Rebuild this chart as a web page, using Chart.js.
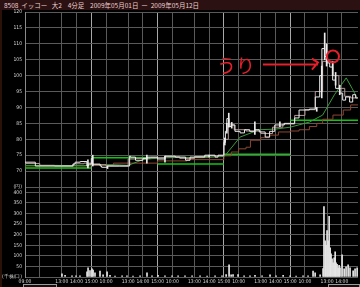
<!DOCTYPE html>
<html>
<head>
<meta charset="utf-8">
<script src="https://cdn.jsdelivr.net/npm/chart.js@4"></script>
<style>
  html, body { margin: 0; padding: 0; background: #000; }
  body { width: 360px; height: 287px; position: relative; overflow: hidden; }
  #title {
    position: absolute; left: 0; top: 0; width: 356px; height: 10px;
    padding-left: 4px; background: #2b1111; color: #ead0d0;
    font: 6.5px "Noto Sans CJK JP"; line-height: 10px; white-space: pre;
  }
  #edge { position: absolute; left: 0; top: 10px; width: 2px; height: 277px; background: #2a1208; }
  #price-chart { position: absolute; left: 0; top: 8px; }
  #vol-chart { position: absolute; left: 0; top: 187px; }
  .box { position: absolute; top: 284px; height: 6px; border: 1px solid #9a9a9a; background: #111; }
</style>
</head>
<body>
<div id="title">8508  イッコー   大2    4分足    2009年05月01日  ー  2009年05月12日</div>
<div id="edge"></div>
<canvas id="vol-chart" width="360" height="100"></canvas>
<canvas id="price-chart" width="360" height="184"></canvas>
<div class="box" style="left:23px;width:32px"></div>
<div class="box" style="left:328px;width:30px"></div>

<script>
// x values are trading hours from 05/01 09:00 (4.5 trading hours per day)
const tickHours = [0, 1, 2.5, 3.5, 4.5, 5.5, 7, 8, 9, 10, 11.5, 12.5, 13.5, 14.5, 16, 17, 18, 19, 20.5, 21.5];
const tickLabels = ["09:00", "", "13:00", "14:00", "15:00", "10:00", "13:00", "14:00", "15:00",
  "10:00", "13:00", "14:00", "15:00", "10:00", "13:00", "14:00", "15:00", "10:00", "13:00", "14:00"];
const dayBreaks = [4.5, 9, 13.5, 18];
const priceTicks = [65, 70, 75, 80, 85, 90, 95, 100, 105, 110, 115, 120];
const volTicks = [0, 50, 100, 150, 200, 250, 300, 350, 400];

// price (close) line
const priceHours = [0, 0.7, 0.75, 1.7, 2.5, 3.25, 3.4, 3.75, 4.2, 4.3, 4.5, 4.6, 4.7, 5.1, 5.2, 5.6, 6.4, 7.1,
  7.15, 7.5, 8.0, 8.3, 8.5, 9.0, 9.5, 10.2, 10.9, 11.2, 11.5, 12.2, 12.9, 13.1, 13.5, 13.6, 13.7, 13.85,
  14.0, 14.25, 14.6, 14.9, 15.25, 15.6, 15.9, 16.3, 16.6, 16.95, 17.3, 17.6, 18.0, 18.3, 18.6, 19.0,
  19.3, 19.7, 20.0, 20.15, 20.34, 20.47, 20.68, 20.88, 21.08, 21.36, 21.56, 21.76, 22.03, 22.24, 22.44, 22.58];
const priceClose = [72.8, 72.8, 71.6, 71.6, 71.6, 71.6, 72.2, 72.8, 73.0, 71.6, 72.2, 74.0, 72.2, 72.2, 71.6, 71.2, 71.6, 71.6,
  74.7, 74.4, 73.4, 74.0, 74.4, 74.4, 73.8, 74.7, 74.4, 73.4, 74.4, 74.4, 75.0, 74.4, 75.0, 79.0, 82.5, 86.5,
  84.0, 84.5, 82.5, 82.0, 83.0, 82.5, 83.0, 82.3, 80.7, 82.5, 84.5, 84.5, 85.0, 85.0, 86.7, 89.2,
  89.2, 89.5, 93.3, 100, 108.5, 106, 104, 102.7, 98.6, 96, 94.5, 92.3, 93.3, 91.7, 94, 93];

// candle wicks
const wickHours = [4.27, 4.6, 5.6, 8.27, 9.5, 12.5, 13.56, 13.7, 13.83, 14.03, 15.6, 17.3, 19.8, 20.14, 20.34, 20.47, 20.88, 21.08, 21.36];
const wickLow = [71.0, 71.6, 70.8, 72.5, 72.8, 74.4, 78.2, 81.9, 83.8, 83.5, 81.5, 84.0, 88.8, 93, 105, 103, 100, 97, 94];
const wickHigh = [73.5, 75.0, 71.6, 75.0, 74.7, 75.0, 80.4, 85.0, 88.2, 85.3, 85.5, 85.5, 90.0, 103, 113.4, 110, 104.5, 101, 97];

// daily reference levels (green horizontal lines)
const refStart = [0, 4.5, 9, 13.5, 18];
const refEnd = [4.5, 9, 13.5, 18, 22.6];
const refLevel = [71.0, 74.2, 72.2, 75.3, 86.0];

// moving averages
const maShortHours = [0, 1.0, 2.0, 3.3, 4.0, 4.5, 5.5, 7.0, 7.5, 8.5, 9.5, 10.5, 11.5, 12.5, 13.5, 13.8, 14.2, 15.0,
  16.0, 16.8, 17.5, 18.3, 19.0, 19.7, 20.2, 20.5, 20.9, 21.3, 21.7, 22.1, 22.6];
const maShort = [72.6, 72.4, 71.8, 71.6, 72.3, 72.5, 72.0, 71.6, 73.8, 74.0, 74.2, 74.5, 74.0, 74.6, 74.8, 80, 84.5, 83.0,
  82.6, 81.8, 83.8, 84.8, 87.5, 89.3, 95, 104.5, 104.5, 100, 96, 93.5, 93];
const maMidHours = [0, 2.0, 4.0, 4.5, 6.0, 7.0, 8.0, 9.0, 10.5, 12.0, 13.5, 13.6, 14.6, 15.9, 17.0, 18.0, 19.3, 20.2, 21.0, 21.8, 22.2, 22.5];
const maMid = [71.8, 71.8, 71.7, 72.0, 72.0, 71.8, 73.6, 74.1, 74.3, 74.2, 74.6, 75.0, 80.7, 83.0, 83.2, 83.8, 85.4, 87.6, 94, 99.3, 96.0, 93.3];
const maLongHours = [0, 4.5, 6, 9, 11, 13.5, 14.0, 14.5, 15.0, 15.3, 16.0, 16.6, 17.2, 18.0, 18.6, 19.3, 19.8, 20.2, 20.9, 21.6, 22.1, 22.6];
const maLong = [71.5, 71.6, 71.8, 72.5, 73.2, 73.6, 74.8, 76.0, 77.0, 77.5, 79.7, 80.5, 81.3, 82.3, 82.6, 83.0, 84.0, 85.0, 86.3, 87.6, 89.2, 90.8];

// volume (thousand shares)
const volHours = [2.51, 2.72, 3.19, 3.46, 3.73, 4.21, 4.28, 4.41, 4.55, 4.62, 4.75, 5.09, 5.30, 5.57, 5.77, 6.11, 6.59, 6.92,
  7.33, 7.81, 8.28, 8.62, 9.03, 9.5, 9.98, 10.39, 10.86, 11.34, 11.88, 12.36, 12.9, 13.37, 13.65, 13.85, 13.99,
  14.12, 14.46, 14.87, 15.27, 15.61, 16.09, 16.63, 17.04, 17.52, 17.99, 18.4, 18.87, 19.21, 19.55, 19.69, 20.03,
  20.23, 20.29, 20.37, 20.43, 20.5, 20.57, 20.64, 20.71, 20.77, 20.84, 20.91, 20.98, 21.05, 21.11, 21.18, 21.25,
  21.32, 21.38, 21.52, 21.66, 21.79, 21.93, 22.06, 22.27, 22.4, 22.54];
const volValues = [15, 8, 5, 5, 6, 25, 43, 30, 38, 33, 20, 28, 10, 25, 8, 4, 5, 6,
  4, 5, 20, 6, 8, 5, 6, 5, 5, 6, 5, 4, 6, 5, 12, 58, 10,
  12, 12, 5, 6, 8, 5, 10, 5, 8, 5, 4, 5, 6, 28, 20, 10,
  40, 333, 171, 150, 219, 171, 286, 138, 110, 86, 67, 90, 119, 67, 60, 43,
  55, 43, 105, 38, 48, 57, 43, 29, 38, 43];

// annotation anchor (the circled spot)
const noteHour = 20.9;
const notePrice = 106;

const pts = (xs, ys) => xs.map((x, i) => ({ x: x, y: ys[i] }));
const refData = [];
refStart.forEach((s, i) => {
  refData.push({ x: s, y: refLevel[i] }, { x: refEnd[i], y: refLevel[i] }, { x: refEnd[i], y: null });
});

const tickFont = { family: "'DejaVu Sans Condensed', 'Liberation Sans Narrow', 'DejaVu Sans'", size: 5 };
const gridColor = (ctx) => (ctx.tick && dayBreaks.includes(ctx.tick.value) ? "#a8a8a8" : "#5a5a5a");
const xAxis = (showLabels) => ({
  type: "linear",
  min: 0,
  max: 22.6,
  offset: false,
  afterBuildTicks: (s) => { s.ticks = tickHours.map((v) => ({ value: v })); },
  afterFit: (s) => { s.height = showLabels ? 10 : 0; },
  grid: { color: gridColor, lineWidth: 1, drawTicks: false, offset: false },
  border: { display: false },
  ticks: {
    display: showLabels,
    autoSkip: false,
    maxRotation: 0,
    padding: 2,
    color: "#d8d8d8",
    font: tickFont,
    callback: (v) => tickLabels[tickHours.indexOf(v)] ?? "",
  },
});
const yAxis = (min, max, ticks, zeroLabel) => ({
  min: min,
  max: max,
  afterFit: (s) => { s.width = 25; s.paddingTop = 0; s.paddingBottom = 0; },
  afterBuildTicks: (s) => { s.ticks = ticks.map((v) => ({ value: v })); },
  grid: { color: "#5a5a5a", drawTicks: false },
  border: { color: "#8a8a8a" },
  ticks: {
    padding: 3,
    color: "#d8d8d8",
    font: tickFont,
    callback: (v) => (v === min ? zeroLabel : v),
  },
});

const handNote = {
  id: "handNote",
  afterDatasetsDraw(chart) {
    const { ctx, scales: { x, y } } = chart;
    const px = x.getPixelForValue(noteHour);
    const py = y.getPixelForValue(notePrice);
    ctx.save();
    ctx.fillStyle = "#e5202c";
    ctx.strokeStyle = "#e5202c";
    ctx.lineWidth = 2;
    ctx.font = "19px 'Noto Sans CJK JP'";
    ctx.textBaseline = "middle";
    ctx.fillText("うり", px - 116, py + 9);
    ctx.beginPath();
    ctx.moveTo(px - 70, py + 8);
    ctx.lineTo(px - 15, py + 8);
    ctx.moveTo(px - 21, py + 2);
    ctx.lineTo(px - 15, py + 6);
    ctx.lineTo(px - 21, py + 13);
    ctx.stroke();
    ctx.beginPath();
    ctx.arc(px, py, 6, 0, Math.PI * 2);
    ctx.stroke();
    ctx.restore();
  },
};

new Chart(document.getElementById("price-chart"), {
  type: "line",
  data: {
    datasets: [
      { data: refData, borderColor: "#12c412", borderWidth: 1.5, spanGaps: false, order: 5 },
      { data: pts(maLongHours, maLong), borderColor: "#8c4632", borderWidth: 1, stepped: "after", order: 4 },
      { data: pts(maMidHours, maMid), borderColor: "#3c9a3c", borderWidth: 1, order: 3 },
      { data: pts(maShortHours, maShort), borderColor: "#b49898", borderWidth: 1, stepped: "after", order: 2 },
      { data: pts(priceHours, priceClose), borderColor: "#ececec", borderWidth: 1, stepped: "after", order: 1 },
      {
        type: "bar",
        data: wickHours.map((h, i) => ({ x: h, y: [wickLow[i], wickHigh[i]] })),
        backgroundColor: "#ececec",
        barThickness: 1,
        order: 0,
      },
    ],
  },
  options: {
    responsive: false,
    animation: false,
    layout: { padding: { left: 0, right: 2, top: 4, bottom: 5 } },
    elements: { point: { radius: 0 }, line: { tension: 0 } },
    scales: { x: xAxis(false), y: yAxis(65, 120, priceTicks, "(円)") },
    plugins: { legend: { display: false }, tooltip: { enabled: false } },
  },
  plugins: [handNote],
});

new Chart(document.getElementById("vol-chart"), {
  type: "bar",
  data: {
    datasets: [{ data: pts(volHours, volValues), backgroundColor: "#e6e6e6", barThickness: 1 }],
  },
  options: {
    responsive: false,
    animation: false,
    layout: { padding: { left: 0, right: 2, top: 0, bottom: 0 } },
    scales: { x: xAxis(true), y: yAxis(0, 425, volTicks, "(千株/口)") },
    plugins: { legend: { display: false }, tooltip: { enabled: false } },
  },
});
</script>
</body>
</html>
